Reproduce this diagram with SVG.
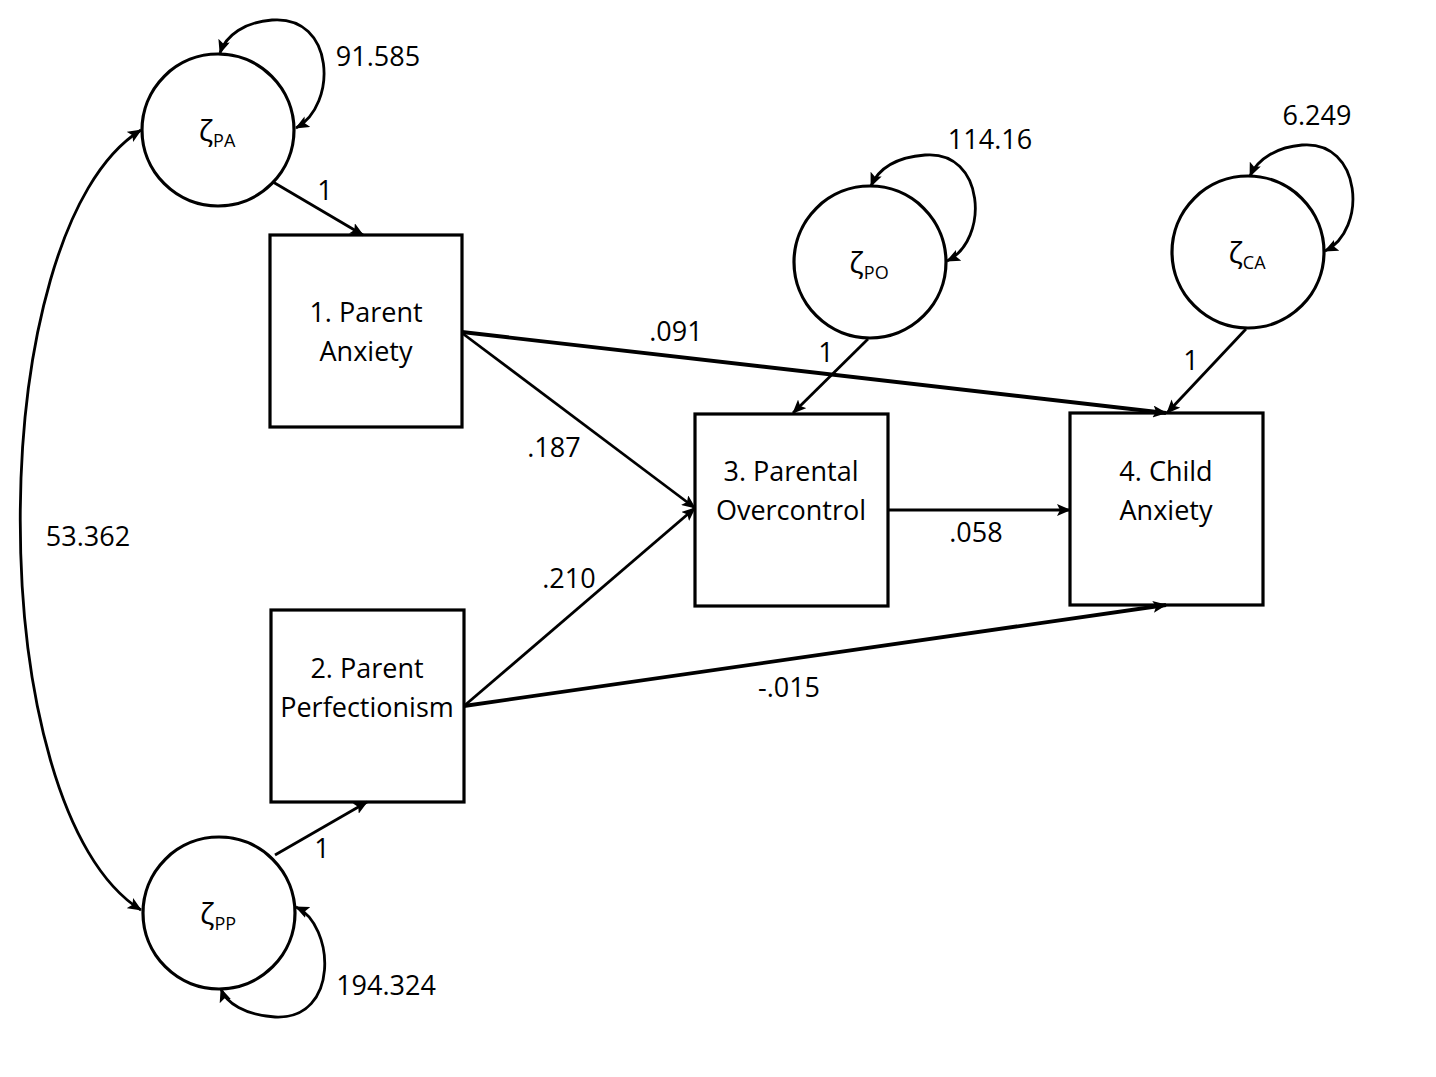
<svg xmlns="http://www.w3.org/2000/svg" width="1436" height="1077" viewBox="0 0 1436 1077">
<defs>
<marker id="ah" markerUnits="userSpaceOnUse" markerWidth="14" markerHeight="12" viewBox="0 0 14 12" refX="13" refY="6" orient="auto-start-reverse">
<path d="M0,0 L14,6 L0,12 L3,6 Z" fill="#000"/>
</marker>
</defs>
<style>
.n{fill:#fff;stroke:#000;stroke-width:3.2}
.c{fill:none;stroke:#000;stroke-width:2.8}
.t{stroke-width:3.8}
text{font-family:"Open Sans","Noto Sans","DejaVu Sans",sans-serif;font-size:27px;fill:#000}
.m{text-anchor:middle}
.z{font-size:30px}
.s{font-size:18px}
</style>
<g id="zPA"><circle class="n" cx="218" cy="130" r="76"/><text x="217" y="141" class="m"><tspan class="z">ζ</tspan><tspan class="s" dy="6">PA</tspan></text></g>
<g id="zPP"><circle class="n" cx="219" cy="913" r="76"/><text x="218" y="924" class="m"><tspan class="z">ζ</tspan><tspan class="s" dy="6">PP</tspan></text></g>
<g id="zPO"><circle class="n" cx="870" cy="262" r="76"/><text x="869" y="273" class="m"><tspan class="z">ζ</tspan><tspan class="s" dy="6">PO</tspan></text></g>
<g id="zCA"><circle class="n" cx="1248" cy="252" r="76"/><text x="1247" y="263" class="m"><tspan class="z">ζ</tspan><tspan class="s" dy="6">CA</tspan></text></g>
<g id="box1"><rect class="n" x="270" y="235" width="192" height="192"/><text x="366" y="322" class="m">1. Parent</text><text x="366" y="361" class="m">Anxiety</text></g>
<g id="box2"><rect class="n" x="271" y="610" width="193" height="192"/><text x="367" y="678" class="m">2. Parent</text><text x="367" y="717" class="m">Perfectionism</text></g>
<g id="box3"><rect class="n" x="695" y="414" width="193" height="192"/><text x="791" y="481" class="m">3. Parental</text><text x="791" y="520" class="m">Overcontrol</text></g>
<g id="box4"><rect class="n" x="1070" y="413" width="193" height="192"/><text x="1166" y="481" class="m">4. Child</text><text x="1166" y="520" class="m">Anxiety</text></g>
<g id="connectors">
<path class="c" d="M141,130 C-20,230 -20,810 141,910" marker-start="url(#ah)" marker-end="url(#ah)"/>
<path class="c" d="M296,128 C338,105 335,15 272,20 C245,22 226,35 220,53" marker-start="url(#ah)" marker-end="url(#ah)"/>
<path class="c" d="M947,261 C990,240 985,150 925,155 C900,157 880,165 871,186" marker-start="url(#ah)" marker-end="url(#ah)"/>
<path class="c" d="M1325,251 C1368,230 1362,140 1302,145 C1278,147 1258,158 1250,176" marker-start="url(#ah)" marker-end="url(#ah)"/>
<path class="c" d="M296,907 C335,925 340,1020 275,1017 C245,1015 226,1003 221,989" marker-start="url(#ah)" marker-end="url(#ah)"/>
<line class="c" x1="273" y1="182" x2="363" y2="235" marker-end="url(#ah)"/>
<line class="c" x1="275" y1="855" x2="367" y2="802" marker-end="url(#ah)"/>
<line class="c" x1="868" y1="339" x2="793" y2="413" marker-end="url(#ah)"/>
<line class="c" x1="1246" y1="329" x2="1167" y2="413" marker-end="url(#ah)"/>
<line class="c t" x1="462" y1="332" x2="1166" y2="413" marker-end="url(#ah)"/>
<line class="c" x1="462" y1="333" x2="695" y2="508" marker-end="url(#ah)"/>
<line class="c" x1="464" y1="706" x2="695" y2="508" marker-end="url(#ah)"/>
<line class="c t" x1="464" y1="706" x2="1166" y2="605" marker-end="url(#ah)"/>
<line class="c" x1="888" y1="510" x2="1070" y2="510" marker-end="url(#ah)"/>
</g>
<g id="labels">
<text x="378" y="66" class="m">91.585</text>
<text x="990" y="149" class="m">114.16</text>
<text x="1317" y="125" class="m">6.249</text>
<text x="386" y="995" class="m">194.324</text>
<text x="88" y="546" class="m">53.362</text>
<text x="325" y="200" class="m">1</text>
<text x="322" y="858" class="m">1</text>
<text x="826" y="362" class="m">1</text>
<text x="1191" y="370" class="m">1</text>
<text x="676" y="341" class="m">.091</text>
<text x="554" y="457" class="m">.187</text>
<text x="569" y="588" class="m">.210</text>
<text x="789" y="697" class="m">-.015</text>
<text x="976" y="542" class="m">.058</text>
</g>
</svg>
